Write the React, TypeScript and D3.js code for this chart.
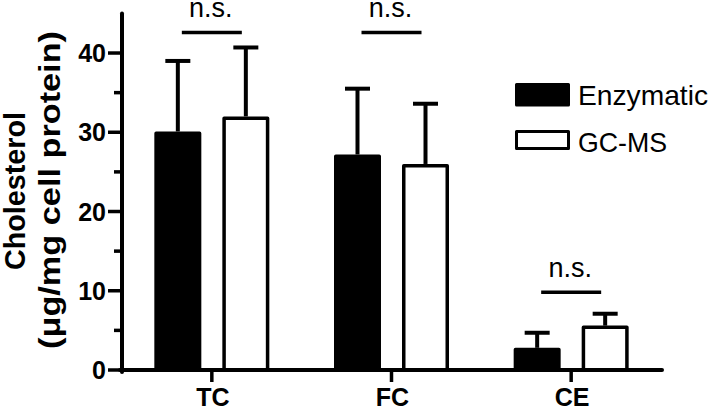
import React from 'react';
import * as d3 from 'd3';

const categories = ['TC', 'FC', 'CE'];
const series = ['Enzymatic', 'GC-MS'];
const enzymaticMean = [30.1, 27.2, 2.8];
const enzymaticSD = [8.9, 8.3, 1.9];
const gcmsMean = [32.0, 26.0, 5.6];
const gcmsSD = [8.7, 7.6, 1.5];
const yMajorTicks = [0, 10, 20, 30, 40];
const yMinorTicks = [5, 15, 25, 35];
const sigLevels = [42.6, 42.6, 9.8];
const sigLabels = ['n.s.', 'n.s.', 'n.s.'];

const W = 711;
const H = 410;
const FONT = 'Arial, "Liberation Sans", Helvetica, sans-serif';

export default function App() {
  const y = d3.scaleLinear().domain([0, 45]).range([370, 13.4]);
  const x = d3.scaleBand<string>().domain(categories).range([122, 661]).padding(0);
  const sub = d3.scaleBand<string>().domain(series).range([-57.5, 57.5]).paddingInner(0.309).paddingOuter(0);
  const fills = ['#000', '#fff'];
  const means = [enzymaticMean, gcmsMean];
  const sds = [enzymaticSD, gcmsSD];
  const sw = 3.5;
  const bw = sub.bandwidth();

  return (
    <svg width={W} height={H} style={{ position: 'absolute', left: 0, top: 0, background: '#fff' }} fontFamily={FONT}>
      <rect x={0} y={0} width={W} height={H} fill="#fff" />
      {/* bars */}
      {series.map((s, si) =>
        categories.map((c, ci) => {
          const cx = (x(c) as number) + x.bandwidth() / 2;
          const left = cx + (sub(s) as number);
          const m = means[si][ci];
          const e = m + sds[si][ci];
          const xc = left + bw / 2;
          return (
            <g key={s + c}>
              <line x1={xc} x2={xc} y1={y(m)} y2={y(e)} stroke="#000" strokeWidth={4} />
              <line x1={xc - 12.5} x2={xc + 12.5} y1={y(e)} y2={y(e)} stroke="#000" strokeWidth={4} />
              <rect
                x={left + sw / 2}
                y={y(m) + sw / 2}
                width={bw - sw}
                height={y(0) - y(m) - sw / 2}
                fill={fills[si]}
                stroke="#000"
                strokeWidth={sw}
                strokeLinejoin="round"
              />
            </g>
          );
        })
      )}
      {/* y axis */}
      <line x1={122} x2={122} y1={y(45)} y2={372} stroke="#000" strokeWidth={4} strokeLinecap="round" />
      {yMajorTicks.map((t) => (
        <g key={'M' + t}>
          <line x1={108} x2={122} y1={y(t)} y2={y(t)} stroke="#000" strokeWidth={3.5} />
          <text x={106} y={y(t)} dy="0.36em" textAnchor="end" fontSize={25} fontWeight="bold">
            {t}
          </text>
        </g>
      ))}
      {yMinorTicks.map((t) => (
        <line key={'m' + t} x1={114} x2={122} y1={y(t)} y2={y(t)} stroke="#000" strokeWidth={3.5} />
      ))}
      {/* x axis */}
      <line x1={120} x2={662} y1={y(0)} y2={y(0)} stroke="#000" strokeWidth={4} strokeLinecap="round" />
      {categories.map((c) => {
        const cx = (x(c) as number) + x.bandwidth() / 2;
        return (
          <g key={'x' + c}>
            <line x1={cx} x2={cx} y1={y(0)} y2={382} stroke="#000" strokeWidth={3.5} />
            <text x={cx + 1} y={406} textAnchor="middle" fontSize={25} fontWeight="bold">
              {c}
            </text>
          </g>
        );
      })}
      {/* significance */}
      {categories.map((c, ci) => {
        const cx = (x(c) as number) + x.bandwidth() / 2;
        const ly = y(sigLevels[ci]);
        return (
          <g key={'s' + c}>
            <line x1={cx - 30} x2={cx + 30} y1={ly} y2={ly} stroke="#000" strokeWidth={3.5} />
            <text x={cx - 1} y={ly - 15} textAnchor="middle" fontSize={27}>
              {sigLabels[ci]}
            </text>
          </g>
        );
      })}
      {/* y label */}
      <g transform="translate(25,191) rotate(-90)">
        <text x={0} y={0} textAnchor="middle" fontSize={29} fontWeight="bold" textLength={158} lengthAdjust="spacingAndGlyphs">
          Cholesterol
        </text>
      </g>
      <g transform="translate(60,190) rotate(-90)">
        <text x={0} y={0} textAnchor="middle" fontSize={30} fontWeight="bold" textLength={318} lengthAdjust="spacingAndGlyphs">
          (μg/mg cell protein)
        </text>
      </g>
      {/* legend */}
      <rect x={516.5} y={84.5} width={52} height={20.5} fill="#000" stroke="#000" strokeWidth={3} strokeLinejoin="round" />
      <text x={578} y={105} fontSize={28} textLength={130} lengthAdjust="spacingAndGlyphs">
        {series[0]}
      </text>
      <rect x={516.5} y={131.5} width={52} height={17} fill="#fff" stroke="#000" strokeWidth={3} strokeLinejoin="round" />
      <text x={578} y={152} fontSize={28} textLength={89} lengthAdjust="spacingAndGlyphs">
        {series[1]}
      </text>
    </svg>
  );
}
